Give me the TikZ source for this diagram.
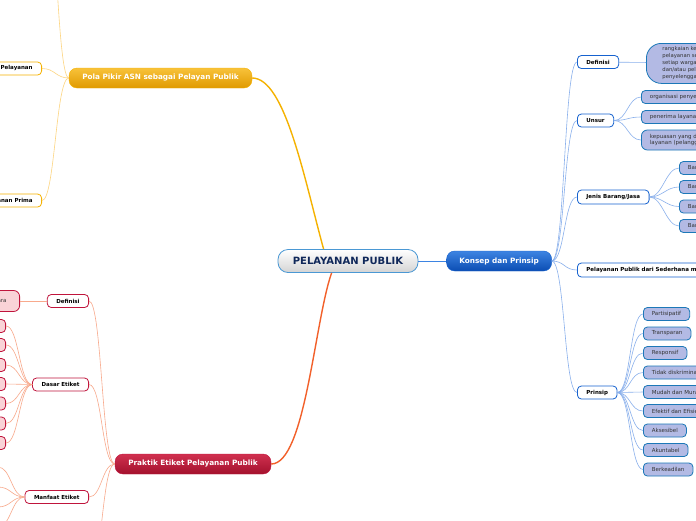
\documentclass[tikz,border=0pt]{standalone}
\usepackage{fontspec}
\setmainfont{DejaVu Sans}
\usepackage{xcolor}
\usepackage{tikz}
\usetikzlibrary{positioning}
\definecolor{coreline}{HTML}{4A98D4}
\definecolor{corefont}{HTML}{10285A}
\definecolor{bluetop}{HTML}{3D84E2}
\definecolor{bluebot}{HTML}{0B4DB3}
\definecolor{blueline}{HTML}{1662CF}
\definecolor{bluewire}{HTML}{8AB0EC}
\definecolor{blueedge}{HTML}{1C78B8}
\definecolor{bluefill}{HTML}{B3BAE4}
\definecolor{goldtop}{HTML}{F8C23A}
\definecolor{goldbot}{HTML}{E09A00}
\definecolor{goldline}{HTML}{F5B200}
\definecolor{goldwire}{HTML}{FDD581}
\definecolor{redtop}{HTML}{D0304F}
\definecolor{redbot}{HTML}{A3112D}
\definecolor{redline}{HTML}{C0143C}
\definecolor{redwire}{HTML}{F8A98C}
\definecolor{redfill}{HTML}{F9D3D7}
\definecolor{rededge}{HTML}{C0143C}
\definecolor{redtrunk}{HTML}{F2602A}

\begin{document}
\begin{tikzpicture}[x=1pt, y=-1pt,
  font=\fontsize{5.5}{6.6}\selectfont,
  core/.style={rectangle, rounded corners=10pt, draw=coreline, line width=.8pt,
               top color=white, bottom color=black!17, text=corefont,
               minimum width=140pt, minimum height=23pt, font=\fontsize{10}{12}\selectfont\bfseries},
  main/.style={rectangle, rounded corners=8pt, draw=#1line, top color=#1top, bottom color=#1bot,
               text=white, minimum height=20pt, font=\fontsize{7.3}{8.8}\selectfont\bfseries},
  sub/.style={rectangle, rounded corners=4pt, draw=#1line, line width=.8pt, fill=white, text=black,
              minimum height=13pt, inner xsep=9pt, inner ysep=1pt, font=\fontsize{5.5}{6.6}\selectfont\bfseries},
  leaf/.style={rectangle, rounded corners=4pt, draw=#1edge, line width=.8pt, fill=#1fill, text=black!80,
               minimum height=13pt, inner xsep=8.5pt, inner ysep=1pt, align=left},
  wire/.style={draw=#1wire, line width=.6pt},
  link/.style={to path={.. controls +(#1,0) and +({-(#1)},0) .. (\tikztotarget) \tikztonodes}}]
  \useasboundingbox (0,0) rectangle (696,520);
  \fill[white] (0,0) rectangle (696,520);
  % centre and main branches
  \node[core] (core) at (348,261) {PELAYANAN PUBLIK};
  \node[main=blue, minimum width=105pt, right=28pt of core] (konsep) {Konsep dan Prinsip};
  \node[main=gold, minimum width=183pt] (pola) at (160.5,78) {Pola Pikir ASN sebagai Pelayan Publik};
  \node[main=red, minimum width=156pt] (praktik) at (193,464) {Praktik Etiket Pelayanan Publik};
  % Konsep dan Prinsip
  \node[sub=blue, anchor=west] (kdef) at (577,62) {Definisi};
  \node[sub=blue, anchor=west] (kunsur) at (577,120.5) {Unsur};
  \node[sub=blue, anchor=west, minimum height=14pt] (kjenis) at (577,197) {Jenis Barang/Jasa};
  \node[sub=blue, anchor=west, minimum height=14pt] (kdari) at (577,270) {Pelayanan Publik dari Sederhana menuju Prima};
  \node[sub=blue, anchor=west] (kprinsip) at (577,392.5) {Prinsip};
  \node[leaf=blue, anchor=north west, rounded corners=15pt, inner xsep=16pt, inner ysep=2.5pt,
        minimum height=40pt, font=\fontsize{5.3}{7}\selectfont] (kdefisi) at (646,43)
        {rangkaian kegiatan dalam rangka pemenuhan kebutuhan\\pelayanan sesuai dengan peraturan perundang-undangan bagi\\setiap warga negara dan penduduk atas barang, jasa,\\dan/atau pelayanan administratif yang disediakan oleh\\penyelenggara pelayanan publik};
  \node[leaf=blue, anchor=west] (uorg) at (641,97) {organisasi penyelenggara};
  \node[leaf=blue, anchor=west] (uterima) at (641,117) {penerima layanan};
  \node[leaf=blue, anchor=west, rounded corners=6pt, minimum height=20pt] (upuas) at (641,140)
        {kepuasan yang diberikan dan/atau diterima oleh penerima\\layanan (pelanggan)};
  \node[leaf=blue, anchor=west] (jpub) at (679,168) {Barang publik murni};
  \node[leaf=blue, anchor=west] (jkuasi) at (679,187) {Barang publik kuasi};
  \node[leaf=blue, anchor=west] (jpriv) at (679,206.5) {Barang privat};
  \node[leaf=blue, anchor=west] (jcamp) at (679,226) {Barang campuran};
  \node[leaf=blue, anchor=west] (ppart) at (643,314) {Partisipatif};
  \node[leaf=blue, anchor=west] (ptrans) at (643,333.5) {Transparan};
  \node[leaf=blue, anchor=west] (presp) at (643,353) {Responsif};
  \node[leaf=blue, anchor=west] (pdisk) at (643,372.5) {Tidak diskriminatif};
  \node[leaf=blue, anchor=west] (pmurah) at (643,392) {Mudah dan Murah};
  \node[leaf=blue, anchor=west] (pefek) at (643,411) {Efektif dan Efisien};
  \node[leaf=blue, anchor=west] (pakses) at (643,430.5) {Aksesibel};
  \node[leaf=blue, anchor=west] (pakun) at (643,450) {Akuntabel};
  \node[leaf=blue, anchor=west] (padil) at (643,469.5) {Berkeadilan};
  % Pola Pikir ASN
  \node[sub=gold, anchor=east] (gpikir) at (42,68.5) {Pola Pikir Pelayanan};
  \node[sub=gold, anchor=east] (gprima) at (42,200.5) {Budaya Pelayanan Prima};
  \coordinate (gnext) at (42,-160);
  % Praktik Etiket
  \node[sub=red, anchor=east] (edef) at (89,301) {Definisi};
  \node[sub=red, anchor=east] (edasar) at (89,384.5) {Dasar Etiket};
  \node[sub=red, anchor=east] (emanfaat) at (89,497) {Manfaat Etiket};
  \coordinate (enext) at (89,576);
  \node[leaf=red, anchor=east, rounded corners=6pt, minimum height=21pt, inner xsep=13pt] (edefisi) at (20,301) {tata cara};
  \node[leaf=red, anchor=east, minimum width=40pt] (ed1) at (6,326) {};
  \node[leaf=red, anchor=east, minimum width=40pt] (ed2) at (6,345) {};
  \node[leaf=red, anchor=east, minimum width=40pt] (ed3) at (6,365) {};
  \node[leaf=red, anchor=east, minimum width=40pt] (ed4) at (6,384) {};
  \node[leaf=red, anchor=east, minimum width=40pt] (ed5) at (6,403.5) {};
  \node[leaf=red, anchor=east, minimum width=40pt] (ed6) at (6,423.5) {};
  \node[leaf=red, anchor=east, minimum width=40pt] (ed7) at (6,443) {};
  \coordinate (em1) at (-2,467);
  \coordinate (em2) at (-2,487);
  \coordinate (em3) at (-2,507);
  \coordinate (em4) at (-2,527);
  % trunks
  \draw[draw=bluetop, line width=.8pt] (core) -- (konsep);
  \draw[draw=goldline, line width=1.4pt] (pola.east) .. controls +(33,0) and +(-19,-69) .. ([xshift=46pt]core.north west);
  \draw[draw=redtrunk, line width=1.4pt] ([xshift=54pt]core.south west) .. controls +(-17,48) and +(34,0) .. (praktik.east);
  % blue wires
  \draw[wire=blue] (konsep.east) to[link=13] (kdef.west);
  \draw[wire=blue] (konsep.east) to[link=13] (kunsur.west);
  \draw[wire=blue] (konsep.east) to[link=13] (kjenis.west);
  \draw[wire=blue] (konsep.east) to[link=13] (kdari.west);
  \draw[wire=blue] (konsep.east) to[link=13] (kprinsip.west);
  \draw[wire=blue] (kdef) -- (kdefisi);
  \draw[wire=blue] (kunsur.east) to[link=13] (uorg.west);
  \draw[wire=blue] (kunsur.east) to[link=13] (uterima.west);
  \draw[wire=blue] (kunsur.east) to[link=13] (upuas.west);
  \draw[wire=blue] (kjenis.east) to[link=13] (jpub.west);
  \draw[wire=blue] (kjenis.east) to[link=13] (jkuasi.west);
  \draw[wire=blue] (kjenis.east) to[link=13] (jpriv.west);
  \draw[wire=blue] (kjenis.east) to[link=13] (jcamp.west);
  \draw[wire=blue] (kprinsip.east) to[link=13] (ppart.west);
  \draw[wire=blue] (kprinsip.east) to[link=13] (ptrans.west);
  \draw[wire=blue] (kprinsip.east) to[link=13] (presp.west);
  \draw[wire=blue] (kprinsip.east) to[link=13] (pdisk.west);
  \draw[wire=blue] (kprinsip.east) to[link=13] (pmurah.west);
  \draw[wire=blue] (kprinsip.east) to[link=13] (pefek.west);
  \draw[wire=blue] (kprinsip.east) to[link=13] (pakses.west);
  \draw[wire=blue] (kprinsip.east) to[link=13] (pakun.west);
  \draw[wire=blue] (kprinsip.east) to[link=13] (padil.west);
  % gold wires
  \draw[wire=gold] (pola.west) to[link=-13] (gpikir.east);
  \draw[wire=gold] (pola.west) to[link=-13] (gprima.east);
  \draw[wire=gold] (pola.west) to[link=-13] (gnext);
  % red wires
  \draw[wire=red] (praktik.west) to[link=-13] (edef.east);
  \draw[wire=red] (praktik.west) to[link=-13] (edasar.east);
  \draw[wire=red] (praktik.west) to[link=-13] (emanfaat.east);
  \draw[wire=red] (praktik.west) to[link=-13] (enext);
  \draw[wire=red] (edef) -- (edefisi);
  \draw[wire=red] (edasar.west) to[link=-13] (ed1.east);
  \draw[wire=red] (edasar.west) to[link=-13] (ed2.east);
  \draw[wire=red] (edasar.west) to[link=-13] (ed3.east);
  \draw[wire=red] (edasar.west) to[link=-13] (ed4.east);
  \draw[wire=red] (edasar.west) to[link=-13] (ed5.east);
  \draw[wire=red] (edasar.west) to[link=-13] (ed6.east);
  \draw[wire=red] (edasar.west) to[link=-13] (ed7.east);
  \draw[wire=red] (emanfaat.west) to[link=-13] (em1);
  \draw[wire=red] (emanfaat.west) to[link=-13] (em2);
  \draw[wire=red] (emanfaat.west) to[link=-13] (em3);
  \draw[wire=red] (emanfaat.west) to[link=-13] (em4);
\end{tikzpicture}
\end{document}
